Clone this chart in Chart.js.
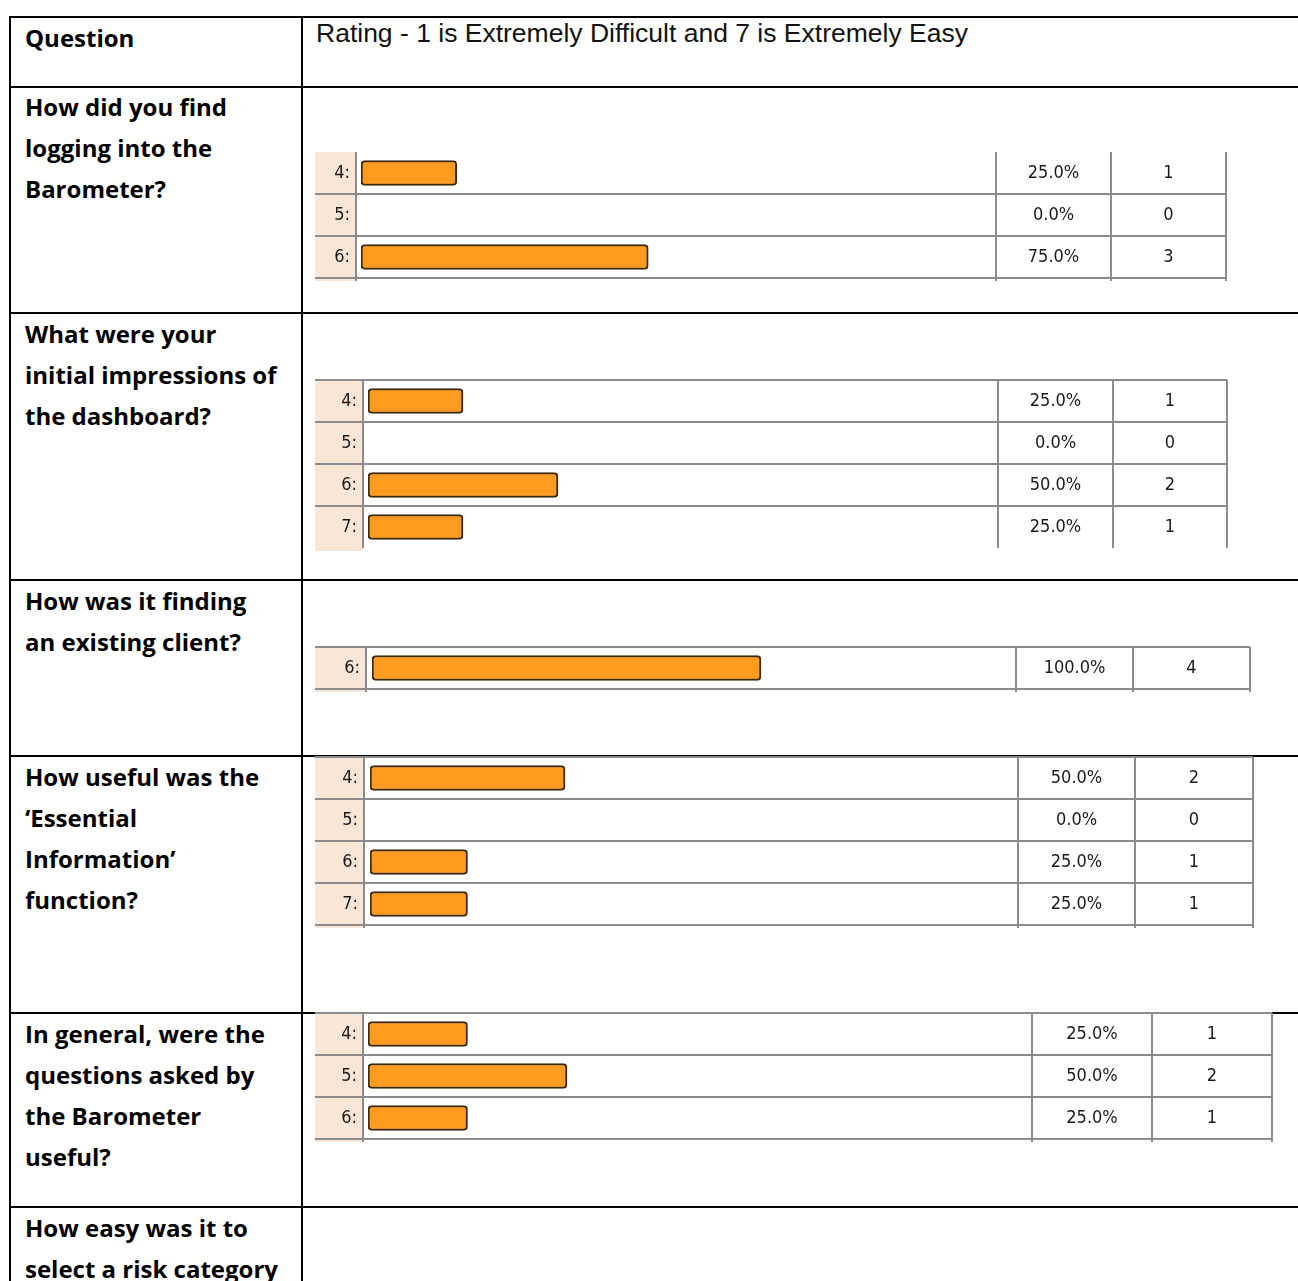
<!DOCTYPE html>
<html>
<head>
<meta charset="utf-8">
<script src="https://cdn.jsdelivr.net/npm/chart.js@4"></script>
<style>
  body { margin: 0; background: #fff; }
  #page { position: relative; width: 1298px; height: 1281px; overflow: hidden; background: #fff; }
  .hl { position: absolute; height: 2px; background: #000; }
  .vl { position: absolute; width: 2px; background: #000; }
  .q { position: absolute; left: 25px; width: 275px; font-family: "Open Sans", Lato, sans-serif; font-weight: 700;
       font-size: 24px; line-height: 41px; color: #000; white-space: nowrap; }
  .rating { position: absolute; left: 316px; top: 16px; font-family: "Liberation Sans", Arial, sans-serif;
            font-size: 26.5px; line-height: 34px; color: #111; }
  canvas.blk { position: absolute; }
</style>
</head>
<body>
<div id="page">
  <div class="q" style="top:17px">Question</div>
  <div class="rating">Rating - 1 is Extremely Difficult and 7 is Extremely Easy</div>
  <div class="q" style="top:86px">How did you find<br>logging into the<br>Barometer?</div>
  <div class="q" style="top:313px">What were your<br>initial impressions of<br>the dashboard?</div>
  <div class="q" style="top:580px">How was it finding<br>an existing client?</div>
  <div class="q" style="top:756px">How useful was the<br>‘Essential<br>Information’<br>function?</div>
  <div class="q" style="top:1013px">In general, were the<br>questions asked by<br>the Barometer<br>useful?</div>
  <div class="q" style="top:1207px">How easy was it to<br>select a risk category</div>
</div>
<script>
// Perguntas e respostas
const q1Ratings = ['4:', '5:', '6:'];
const q1Pct = [25, 0, 75];
const q1Count = [1, 0, 3];

const q2Ratings = ['4:', '5:', '6:', '7:'];
const q2Pct = [25, 0, 50, 25];
const q2Count = [1, 0, 2, 1];

const q3Ratings = ['6:'];
const q3Pct = [100];
const q3Count = [4];

const q4Ratings = ['4:', '5:', '6:', '7:'];
const q4Pct = [50, 0, 25, 25];
const q4Count = [2, 0, 1, 1];

const q5Ratings = ['4:', '5:', '6:'];
const q5Pct = [25, 50, 25];
const q5Count = [1, 2, 1];

// Linhas da tabela externa
const page = document.getElementById('page');
[17, 87, 313, 580, 756, 1013, 1207].forEach(y => {
  const d = document.createElement('div');
  d.className = 'hl';
  d.style.left = '10px'; d.style.width = '1288px'; d.style.top = (y - 1) + 'px';
  page.appendChild(d);
});
[10, 302].forEach(x => {
  const d = document.createElement('div');
  d.className = 'vl';
  d.style.left = (x - 1) + 'px'; d.style.top = '16px'; d.style.height = '1270px';
  page.appendChild(d);
});

// Layout de cada bloco (posições só)
const ROW = 42;
const blocos = [
  { ratings: q1Ratings, pct: q1Pct, count: q1Count, top: 152, labR: 356, barL: 361, pctL: 996, cntL: 1111, cntR: 1226, full: 383, topLine: false, bottomLine: true },
  { ratings: q2Ratings, pct: q2Pct, count: q2Count, top: 380, labR: 363, barL: 368, pctL: 998, cntL: 1113, cntR: 1227, full: 380, topLine: true, bottomLine: false },
  { ratings: q3Ratings, pct: q3Pct, count: q3Count, top: 647, labR: 366, barL: 372, pctL: 1016, cntL: 1133, cntR: 1250, full: 389, topLine: true, bottomLine: true },
  { ratings: q4Ratings, pct: q4Pct, count: q4Count, top: 757, labR: 364, barL: 370, pctL: 1018, cntL: 1135, cntR: 1253, full: 390, topLine: true, bottomLine: true },
  { ratings: q5Ratings, pct: q5Pct, count: q5Count, top: 1013, labR: 363, barL: 368, pctL: 1032, cntL: 1152, cntR: 1272, full: 398, topLine: true, bottomLine: true }
];

const LEFT = 315;
const fonteCelula = '"DejaVu Sans Condensed", "DejaVu Sans", Tahoma, sans-serif';
const cinza = '#8c8c8c';

const gradeTabela = {
  id: 'gradeTabela',
  beforeDraw(chart) {
    const b = chart.options.plugins.gradeTabela;
    const ctx = chart.ctx;
    const area = chart.chartArea;
    ctx.save();
    ctx.fillStyle = '#fae6d6';
    ctx.fillRect(0, area.top, b.labR - LEFT, area.bottom - area.top + 3);
    ctx.restore();
  },
  afterDraw(chart) {
    const b = chart.options.plugins.gradeTabela;
    const ctx = chart.ctx;
    const area = chart.chartArea;
    const y = chart.scales.y;
    const n = b.ratings.length;
    const step = (area.bottom - area.top) / n;
    const xr = b.cntR - LEFT;
    ctx.save();
    ctx.strokeStyle = cinza;
    ctx.lineWidth = 2;
    // horizontais
    for (let i = 0; i <= n; i++) {
      if (i === 0 && !b.topLine) continue;
      if (i === n && !b.bottomLine) continue;
      const yy = Math.round(y.getPixelForValue(0) - step / 2 + i * step);
      ctx.beginPath(); ctx.moveTo(0, yy); ctx.lineTo(xr, yy); ctx.stroke();
    }
    // verticais
    const yb = area.bottom + (b.bottomLine ? 3 : 0);
    [b.labR, b.pctL, b.cntL, b.cntR].forEach(x => {
      const xx = x - LEFT;
      ctx.beginPath(); ctx.moveTo(xx, area.top); ctx.lineTo(xx, yb); ctx.stroke();
    });
    // textos de % e contagem
    ctx.fillStyle = '#1a1a1a';
    ctx.font = '18px ' + fonteCelula;
    ctx.textAlign = 'center';
    ctx.textBaseline = 'middle';
    b.ratings.forEach((r, i) => {
      const yy = y.getPixelForValue(i);
      ctx.fillText(b.pct[i].toFixed(1) + '%', (b.pctL + b.cntL) / 2 - LEFT, yy);
      ctx.fillText(String(b.count[i]), (b.cntL + b.cntR) / 2 - LEFT, yy);
    });
    ctx.restore();
  }
};

blocos.forEach(b => {
  const canvas = document.createElement('canvas');
  canvas.className = 'blk';
  const w = b.cntR - LEFT + 2;
  const h = b.ratings.length * ROW + 6;
  canvas.width = w; canvas.height = h;
  canvas.style.width = w + 'px'; canvas.style.height = h + 'px';
  canvas.style.left = LEFT + 'px';
  canvas.style.top = (b.top - 2) + 'px';
  page.appendChild(canvas);

  new Chart(canvas.getContext('2d'), {
    type: 'bar',
    data: {
      labels: b.ratings,
      datasets: [{
        data: b.pct,
        backgroundColor: '#fe9c22',
        borderColor: '#3f2a06',
        borderWidth: 2,
        borderRadius: 4,
        borderSkipped: false,
        barThickness: 25
      }]
    },
    options: {
      indexAxis: 'y',
      responsive: false,
      animation: false,
      devicePixelRatio: 1,
      layout: { padding: { top: 2, bottom: 4, left: 0, right: w - (b.pctL - LEFT) } },
      scales: {
        x: { display: false, min: 0, max: 100 * (b.pctL - b.barL) / b.full },
        y: {
          afterFit: s => { s.width = b.barL - LEFT; s.paddingTop = 0; s.paddingBottom = 0; },
          grid: { display: false, drawTicks: false },
          border: { display: false },
          ticks: { color: '#1a1a1a', font: { family: fonteCelula, size: 18 }, padding: b.barL - b.labR + 6 }
        }
      },
      plugins: {
        legend: { display: false },
        tooltip: { enabled: false },
        gradeTabela: b
      }
    },
    plugins: [gradeTabela]
  });
});
</script>
</body>
</html>
